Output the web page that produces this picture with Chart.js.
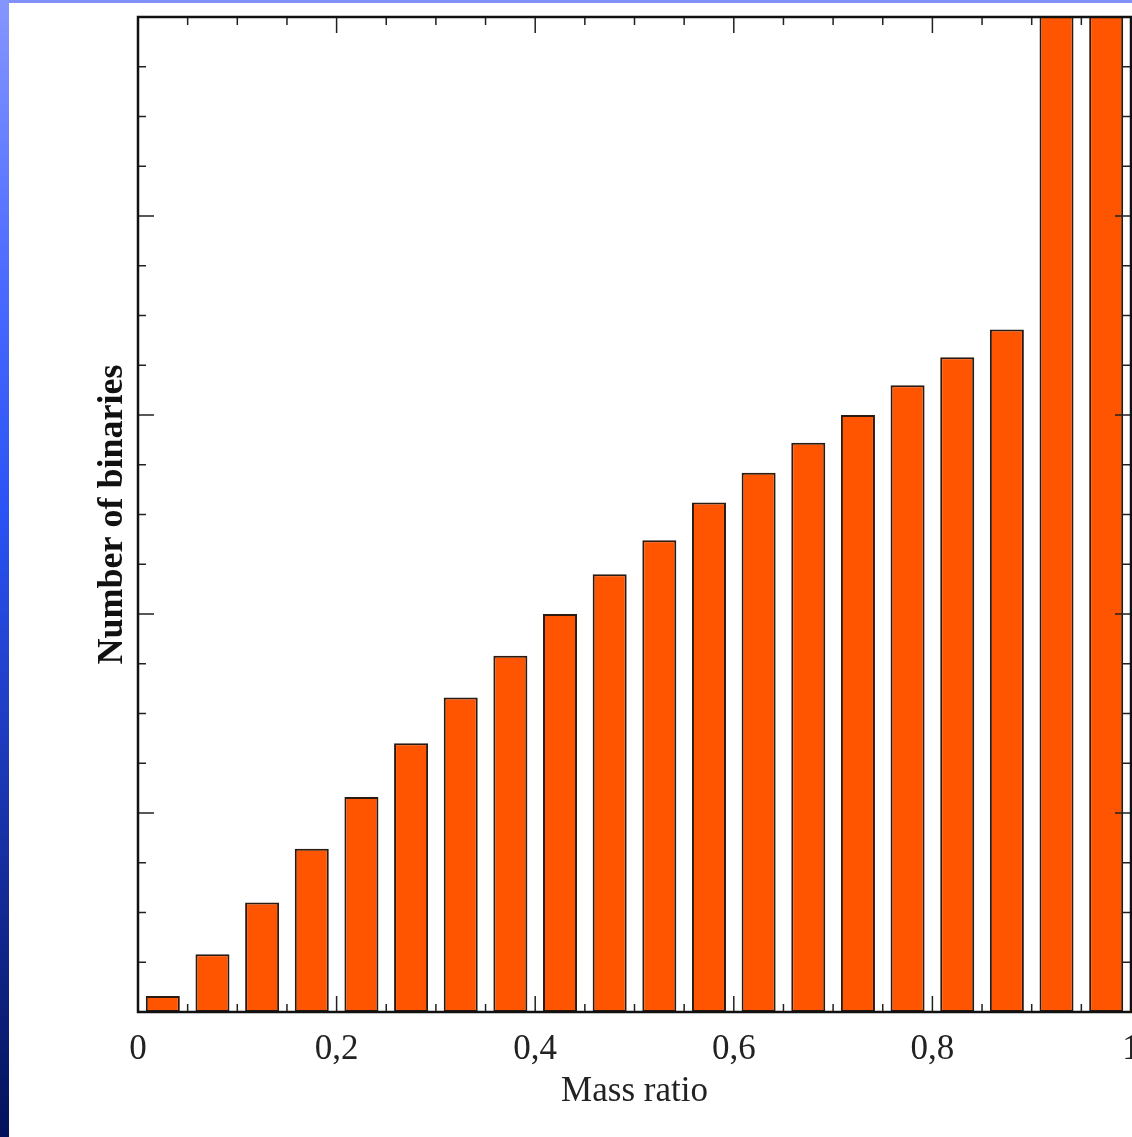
<!DOCTYPE html>
<html>
<head>
<meta charset="utf-8">
<script src="https://cdn.jsdelivr.net/npm/chart.js@4.4.1/dist/chart.umd.min.js"></script>
<style>
  body { margin: 0; background: #fff; overflow: hidden; }
  #wrap { position: relative; width: 1132px; height: 1137px; }
  #topStrip { position: absolute; left: 0; top: 0; width: 1132px; height: 3px; background: #8191fb; z-index: 2; }
  #leftStrip { position: absolute; left: 0; top: 0; width: 9px; height: 1137px; z-index: 2;
    background: linear-gradient(to bottom, #8696ff 0%, #4a6aff 25%, #2b52f5 45%, #1a35b0 70%, #04125a 100%); }
  canvas { position: absolute; left: 0; top: 0; }
</style>
</head>
<body>
<div id="wrap">
  <div id="topStrip"></div>
  <div id="leftStrip"></div>
  <canvas id="histChart" width="1132" height="1137"></canvas>
</div>
<script>
// bin centres of the mass ratio histogram (bins 0.05 wide)
var massRatio = [0.025, 0.075, 0.125, 0.175, 0.225, 0.275, 0.325, 0.375, 0.425, 0.475,
                 0.525, 0.575, 0.625, 0.675, 0.725, 0.775, 0.825, 0.875, 0.925, 0.975];
// number of binaries (arbitrary units, last two bins go off the top)
var binaries = [0.08, 0.29, 0.55, 0.82, 1.08, 1.35, 1.58, 1.79, 2.00, 2.20,
                2.37, 2.56, 2.71, 2.86, 3.00, 3.15, 3.29, 3.43, 6.0, 6.5];
var xTicks = [0, 0.2, 0.4, 0.6, 0.8, 1];
var xTickLabels = ['0', '0,2', '0,4', '0,6', '0,8', '1'];

var points = massRatio.map(function (m, i) { return { x: m, y: binaries[i] }; });

// draws the frame and the inward tick marks on all four sides
var frameTicks = {
  id: 'frameTicks',
  afterDatasetsDraw: function (chart) {
    var ctx = chart.ctx, a = chart.chartArea;
    var xs = chart.scales.x, ys = chart.scales.y;
    ctx.save();
    ctx.strokeStyle = '#222';
    ctx.lineWidth = 1.5;
    ctx.beginPath();
    for (var i = 0; i <= 20; i++) {
      var px = xs.getPixelForValue(i * 0.05);
      var len = (i % 4 === 0) ? 16 : 8;
      ctx.moveTo(px, a.bottom); ctx.lineTo(px, a.bottom - len);
      ctx.moveTo(px, a.top); ctx.lineTo(px, a.top + len);
    }
    for (var j = 0; j <= 20; j++) {
      var py = ys.getPixelForValue(j * 0.25);
      var l2 = (j % 4 === 0) ? 16 : 8;
      ctx.moveTo(a.left, py); ctx.lineTo(a.left + l2, py);
      ctx.moveTo(a.right, py); ctx.lineTo(a.right - l2, py);
    }
    ctx.stroke();
    ctx.lineWidth = 2.5;
    ctx.strokeStyle = '#111';
    ctx.strokeRect(a.left, a.top, a.right - a.left, a.bottom - a.top);
    ctx.restore();
  }
};

var ctx = document.getElementById('histChart').getContext('2d');
var histChart = new Chart(ctx, {
  type: 'bar',
  data: {
    datasets: [{
      data: points,
      backgroundColor: '#ff5500',
      borderColor: '#2a1a10',
      borderWidth: 2,
      borderSkipped: false,
      categoryPercentage: 1,
      barPercentage: 0.685
    }]
  },
  options: {
    responsive: false,
    animation: false,
    devicePixelRatio: 1,
    layout: { padding: { left: 0, top: 17, right: 1, bottom: 0 } },
    plugins: { legend: { display: false }, tooltip: { enabled: false } },
    scales: {
      x: {
        type: 'linear',
        min: 0, max: 1,
        offset: false,
        grid: { display: false, offset: false },
        border: { display: false },
        afterBuildTicks: function (scale) {
          scale.ticks = xTicks.map(function (v) { return { value: v }; });
        },
        ticks: {
          autoSkip: false,
          maxRotation: 0,
          padding: 9,
          color: '#222',
          font: { family: 'Liberation Serif', size: 35 },
          callback: function (value) {
            return xTickLabels[xTicks.indexOf(value)];
          }
        },
        title: {
          display: true,
          text: 'Mass ratio',
          color: '#222',
          font: { family: 'Liberation Serif', size: 35 },
          padding: { top: 0, bottom: 24 }
        },
        afterFit: function (scale) {
          scale.height = 125;
          scale.paddingLeft = 0;
          scale.paddingRight = 0;
        }
      },
      y: {
        min: 0, max: 5,
        grid: { display: false },
        border: { display: false },
        ticks: { display: false },
        title: {
          display: true,
          text: 'Number of binaries',
          color: '#111',
          font: { family: 'Liberation Serif', size: 36, weight: 'bold' },
          padding: { top: 91, bottom: 0 }
        },
        afterFit: function (scale) {
          scale.width = 138;
          scale.paddingTop = 0;
          scale.paddingBottom = 0;
        }
      }
    }
  },
  plugins: [frameTicks]
});
</script>
</body>
</html>
